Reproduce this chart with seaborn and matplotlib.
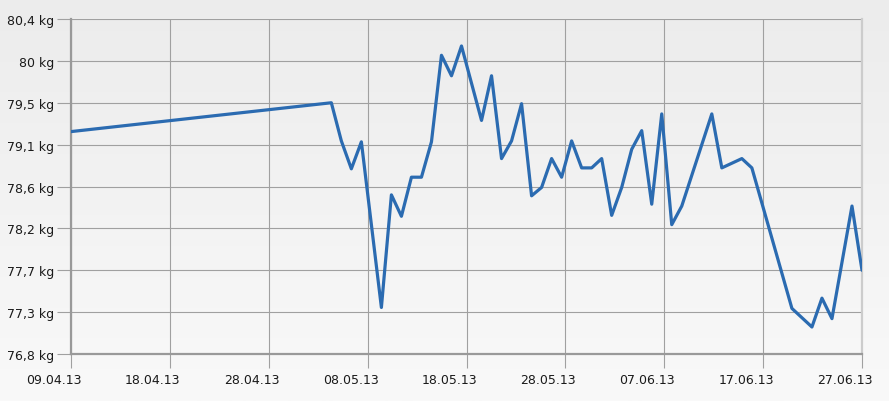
import numpy as np
import pandas as pd
import matplotlib
matplotlib.use("Agg")
import matplotlib.pyplot as plt
import matplotlib.transforms as mtransforms
from matplotlib.colors import LinearSegmentedColormap
import seaborn as sns

# ---- data ----
dates = ["09.04.2013", "05.05.2013", "06.05.2013", "07.05.2013", "08.05.2013",
         "10.05.2013", "11.05.2013", "12.05.2013", "13.05.2013", "14.05.2013",
         "15.05.2013", "16.05.2013", "17.05.2013", "18.05.2013", "20.05.2013",
         "21.05.2013", "22.05.2013", "23.05.2013", "24.05.2013", "25.05.2013",
         "26.05.2013", "27.05.2013", "28.05.2013", "29.05.2013", "30.05.2013",
         "31.05.2013", "01.06.2013", "02.06.2013", "03.06.2013", "04.06.2013",
         "05.06.2013", "06.06.2013", "07.06.2013", "08.06.2013", "09.06.2013",
         "12.06.2013", "13.06.2013", "15.06.2013", "16.06.2013", "20.06.2013",
         "22.06.2013", "23.06.2013", "24.06.2013", "26.06.2013", "27.06.2013"]
weights = [79.19, 79.50, 79.09, 78.79, 79.08,
           77.30, 78.51, 78.28, 78.70, 78.70,
           79.08, 80.01, 79.79, 80.11, 79.31,
           79.79, 78.90, 79.09, 79.49, 78.50,
           78.59, 78.90, 78.70, 79.09, 78.80,
           78.80, 78.90, 78.29, 78.59, 79.00,
           79.20, 78.41, 79.38, 78.19, 78.39,
           79.38, 78.80, 78.90, 78.80, 77.29,
           77.09, 77.40, 77.18, 78.39, 77.70]
x_tick_labels = ["09.04.13", "18.04.13", "28.04.13", "08.05.13", "18.05.13",
                 "28.05.13", "07.06.13", "17.06.13", "27.06.13"]
y_tick_labels = ["76,8 kg", "77,3 kg", "77,7 kg", "78,2 kg", "78,6 kg",
                 "79,1 kg", "79,5 kg", "80 kg", "80,4 kg"]
y_min, y_max = 76.8, 80.4

# ---- frame ----
d = pd.to_datetime(pd.Series(dates), format="%d.%m.%Y")
days = (d - d.iloc[0]).dt.days
df = pd.DataFrame({"day": days, "weight": weights})
span = float(days.iloc[-1])

sns.set_style("white")
plt.rcParams["font.family"] = ["DejaVu Sans"]

fig = plt.figure(figsize=(8.89, 4.02), dpi=100)

# background gradient
bg = fig.add_axes([0, 0, 1, 1], zorder=-10)
grad = np.linspace(0, 1, 256).reshape(-1, 1)
cmap = LinearSegmentedColormap.from_list("bg", ["#ececec", "#f9f9f9"])
bg.imshow(grad, aspect="auto", cmap=cmap, extent=[0, 1, 0, 1], origin="upper")
bg.axis("off")

ax = fig.add_axes([71 / 889, 1 - 355 / 402, (862 - 71) / 889, (355 - 20) / 402])
ax.set_facecolor("none")

sns.lineplot(data=df, x="day", y="weight", ax=ax, color="#2b6bb1",
             linewidth=2.3, zorder=5)

ax.set_xlim(0, span)
ax.set_ylim(y_min, y_max)
ax.set_xticks(np.linspace(0, span, len(x_tick_labels)))
ax.set_xticklabels(x_tick_labels)
ax.set_yticks(np.linspace(y_min, y_max, len(y_tick_labels)))
ax.set_yticklabels(y_tick_labels)
ax.set_xlabel("")
ax.set_ylabel("")

ax.grid(True, color="#a0a0a0", linewidth=0.8)
ax.tick_params(axis="both", which="both", length=10, width=0.8, color="#a0a0a0",
               labelsize=9, labelcolor="#1a1a1a", bottom=True, left=True)
ax.tick_params(axis="x", pad=4)
ax.tick_params(axis="y", pad=2)

ax.spines["top"].set_visible(False)
ax.spines["right"].set_color("#cccccc")
ax.spines["right"].set_linewidth(1.6)
ax.spines["left"].set_color("#999999")
ax.spines["left"].set_linewidth(1.6)
ax.spines["bottom"].set_color("#999999")
ax.spines["bottom"].set_linewidth(1.6)

offset = mtransforms.ScaledTranslation(-17 / 100, 0, fig.dpi_scale_trans)
for lbl in ax.get_xticklabels():
    lbl.set_transform(lbl.get_transform() + offset)

fig.savefig("out.png", dpi=100)
